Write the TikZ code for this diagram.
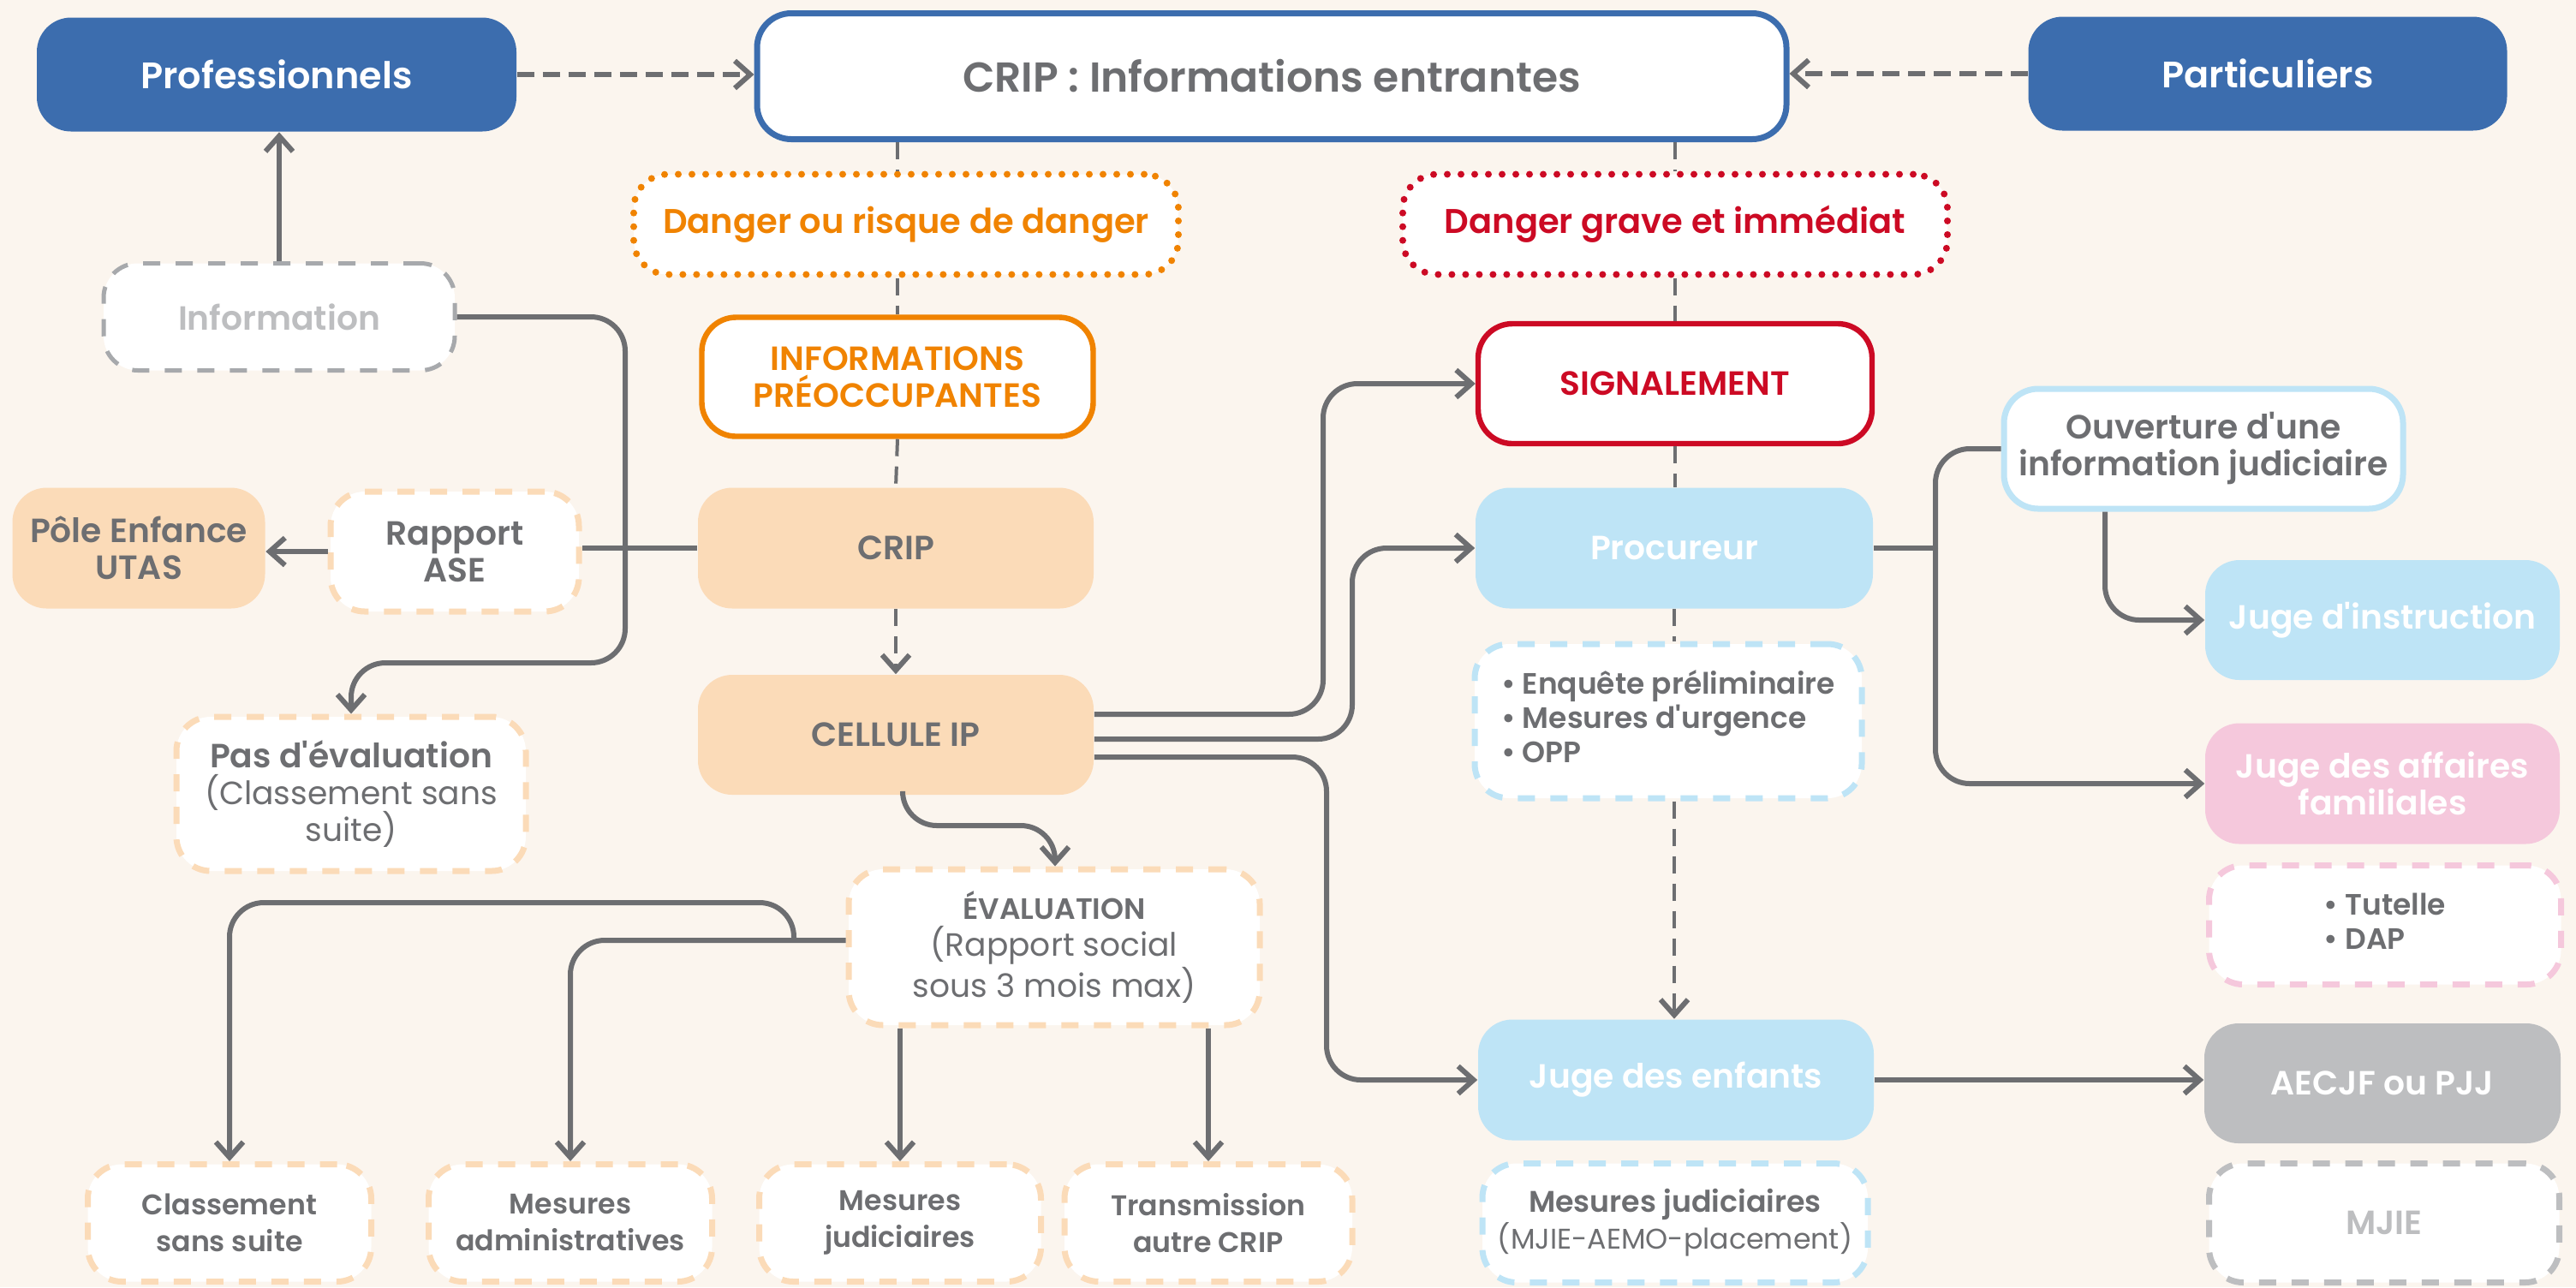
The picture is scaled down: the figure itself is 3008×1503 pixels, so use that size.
\documentclass[tikz,border=0pt]{standalone}
\usepackage{fontspec}
\setmainfont{Poppins}[BoldFont={Poppins SemiBold}]
\usetikzlibrary{arrows.meta,calc}
\definecolor{cream}{HTML}{FBF5EE}
\definecolor{cblue}{HTML}{3C6DAE}
\definecolor{corange}{HTML}{F08300}
\definecolor{cred}{HTML}{CC0A24}
\definecolor{peach}{HTML}{FBDBB8}
\definecolor{lblue}{HTML}{BEE4F6}
\definecolor{pinkc}{HTML}{F5C8DC}
\definecolor{gfill}{HTML}{BDBEC0}
\definecolor{tgray}{HTML}{6D6E71}
\definecolor{lgray}{HTML}{BDBEC0}
\definecolor{bgray}{HTML}{A7A9AC}
\newcommand\fstd{\fontsize{9.8}{10.75}\selectfont\bfseries}
\newcommand\freg{\fontsize{9.4}{10.75}\selectfont\mdseries}
\newcommand\ftitle{\fontsize{12.2}{14}\selectfont\bfseries}
\newcommand\fbig{\fontsize{10.75}{12}\selectfont\bfseries}
\newcommand\fmid{\fontsize{10}{11}\selectfont\bfseries}
\newcommand\fsml{\fontsize{8.3}{10.75}\selectfont\bfseries}
\newcommand\fbul{\fontsize{8.6}{10}\selectfont\bfseries}
\newcommand\fsreg{\fontsize{8.3}{10.75}\selectfont\mdseries}
\newcommand\ap{\textquotesingle}
\tikzset{
  sz/.style 2 args={minimum width={#1*0.25pt}, minimum height={#2*0.25pt}},
  box/.style={rounded corners=10pt, inner sep=0pt, align=center, font=\fstd, text=tgray},
  fillbox/.style={box, fill=#1, draw=none},
  dashbox/.style={box, fill=white, draw=#1, line width=1.75pt, dash pattern=on 5pt off 4.5pt},
  dotbox/.style={box, fill=white, draw=#1, line width=2pt, dash pattern=on 0pt off 4pt, line cap=round},
  linebox/.style={box, fill=white, draw=#1, line width=1.6pt},
  conn/.style={draw=tgray, line width=1.5pt, rounded corners=10pt},
  arr/.style={-{Straight Barb[length=4.5pt,width=8pt,line width=1.5pt]}},
  thindash/.style={draw=tgray, line width=1pt, dash pattern=on 5pt off 3pt},
  topdash/.style={draw=tgray, line width=1.6pt, dash pattern=on 5pt off 2.5pt},
}
\begin{document}
\begin{tikzpicture}[x=0.25pt, y=-0.25pt]
\useasboundingbox (0,0) rectangle (3008,1503);
\fill[cream] (0,0) rectangle (3008,1503);

% top row
\node[fillbox=cblue, sz={560}{133}, text=white, font=\fbig] (prof) at (323,87) {Professionnels};
\node[linebox=cblue, line width=1.75pt, sz={1202}{147}, font=\ftitle] (crip) at (1485,89) {CRIP : Informations entrantes};
\node[fillbox=cblue, sz={559}{133}, text=white, font=\fbig] (part) at (2648,86) {Particuliers};

% second row
\node[dashbox=bgray, line width=1.25pt, sz={410}{125}, text=lgray] (info) at (326,370) {Information};
\node[dotbox=corange, sz={636}{117}, text=corange, font=\fmid] (dang1) at (1058,262) {Danger ou risque de danger};
\node[dotbox=cred, sz={636}{117}, text=cred, font=\fmid] (dang2) at (1956,262) {Danger grave et immédiat};
\node[linebox=corange, sz={457}{139}, text=corange] (ip) at (1048,440) {INFORMATIONS\\PRÉOCCUPANTES};
\node[linebox=cred, sz={460}{140}, text=cred] (sig) at (1956,448) {SIGNALEMENT};

% middle
\node[fillbox=peach, sz={295}{141}] (pole) at (162,640) {Pôle Enfance\\UTAS};
\node[dashbox=peach, sz={290}{140}] (rase) at (531,644) {Rapport\\ASE};
\node[fillbox=peach, sz={462}{141}] (cripb) at (1046,640) {CRIP};
\node[fillbox=lblue, sz={464}{141}, text=white] (proc) at (1955,640) {Procureur};
\node[linebox=lblue, line width=1.75pt, sz={466}{140}] (ouv) at (2573,524) {Ouverture d\ap une\\information judiciaire};
\node[fillbox=lblue, sz={414}{140}, text=white] (ji) at (2782,724) {Juge d\ap instruction};
\node[fillbox=pinkc, sz={414}{141}, text=white] (jaf) at (2782,915) {Juge des affaires\\familiales};
\node[dashbox=pinkc, sz={411}{139}, font=\fbul] (tut) at (2785,1080) {\begin{tabular}{@{}l@{}}• Tutelle\\• DAP\end{tabular}};
\node[fillbox=peach, sz={462}{140}] (cell) at (1046,858) {CELLULE IP};
\node[dashbox=lblue, sz={452}{180}, font=\fbul] (bul) at (1948,842) {\begin{tabular}{@{}l@{}}• Enquête préliminaire\\• Mesures d\ap urgence\\• OPP\end{tabular}};
\node[dashbox=peach, sz={408}{180}] (pas) at (410,927) {Pas d\ap évaluation\\{\freg (Classement sans}\\{\freg suite)}};
\node[dashbox=peach, sz={480}{182}] (eval) at (1231,1106) {{\fontsize{8.6}{10.75}\selectfont ÉVALUATION}\\{\freg (Rapport social}\\{\freg sous 3 mois max)}};
\node[fillbox=lblue, sz={462}{141}, text=white] (jde) at (1957,1261) {Juge des enfants};
\node[fillbox=gfill, sz={416}{140}, text=white] (aecjf) at (2782,1265) {AECJF ou PJJ};

% bottom row
\node[dashbox=peach, sz={331}{137}, font=\fsml] (class) at (268,1428) {Classement\\sans suite};
\node[dashbox=peach, sz={331}{137}, font=\fsml] (madm) at (666,1428) {Mesures\\administratives};
\node[dashbox=peach, sz={329}{137}, font=\fsml] (mjud) at (1051,1428) {Mesures\\judiciaires};
\node[dashbox=peach, sz={336}{137}, font=\fsml] (trans) at (1411,1428) {Transmission\\autre CRIP};
\node[dashbox=lblue, sz={450}{139}, font=\fsml] (mesj) at (1956,1428) {{\fontsize{8.7}{10.75}\selectfont Mesures judiciaires}\\{\fsreg (MJIE-AEMO-placement)}};
\node[dashbox=lgray, sz={409}{139}, text=lgray] (mjie) at (2784,1428) {MJIE};

% top dashed arrows
\draw[topdash, arr] (prof.east) -- (prof.east -| crip.west);
\draw[topdash, arr] (part.west) -- (part.west -| crip.east);

% vertical dashed links
\draw[thindash] (crip.south -| ip.north) -- (dang1.north -| ip.north);
\draw[thindash] (dang1.south -| ip.north) -- (ip.north);
\draw[thindash] (ip.south) -- (cripb.north);
\draw[thindash, arr] (cripb.south) -- (cell.north);
\draw[thindash] (crip.south -| sig.north) -- (dang2.north -| sig.north);
\draw[thindash] (dang2.south -| sig.north) -- (sig.north);
\draw[thindash] (sig.south) -- (sig.south |- proc.north);
\draw[thindash] (proc.south) -- (proc.south |- bul.north);
\draw[thindash, arr] (proc.south |- bul.south) -- (proc.south |- jde.north);

% left side
\draw[conn, arr] (info.north) -- (info.north |- prof.south);
\draw[conn] (cripb.west) -- (cripb.west -| rase.east);
\draw[conn, arr] (rase.west) -- (rase.west -| pole.east);
\draw[conn, arr] (info.east) -- (730,370) -- (730,774) -- (410,774) -- (pas.north);

% cellule IP outputs
\draw[conn, arr] ($(cell.east)+(0,-24)$) -- (1545,834) -- (1545,448) -- (sig.west);
\draw[conn, arr] ($(cell.east)+(0,5)$) -- (1579,863) -- (1579,640) -- (proc.west);
\draw[conn, arr] ($(cell.east)+(0,26)$) -- (1549,884) -- (1549,1261) -- (jde.west);
\draw[conn, arr] ($(cell.south)+(8,0)$) -- (1054,964) -- (1232,964) -- (eval.north -| 1232,0);

% evaluation outputs
\coordinate (br) at (927,1098);
\draw[conn, arr] ($(eval.west)+(0,-8)$) -- (666,1098) -- (madm.north);
\draw[conn, arr] (br) -- (927,1054) -- (268,1054) -- (class.north);
\draw[conn, arr] (eval.south -| mjud.north) -- (mjud.north);
\draw[conn, arr] (eval.south -| trans.north) -- (trans.north);

% procureur outputs
\coordinate (tr) at (2260,640);
\draw[conn] (proc.east) -- (tr);
\draw[conn] (tr) -- (2260,524) -- (ouv.west);
\draw[conn, arr] (tr) -- (2260,915) -- (jaf.west);
\draw[conn, arr] ($(ouv.south)+(-115,0)$) -- (2458,724) -- (ji.west);

% juge des enfants
\draw[conn, arr] (jde.east) -- (jde.east -| aecjf.west);
\end{tikzpicture}
\end{document}
